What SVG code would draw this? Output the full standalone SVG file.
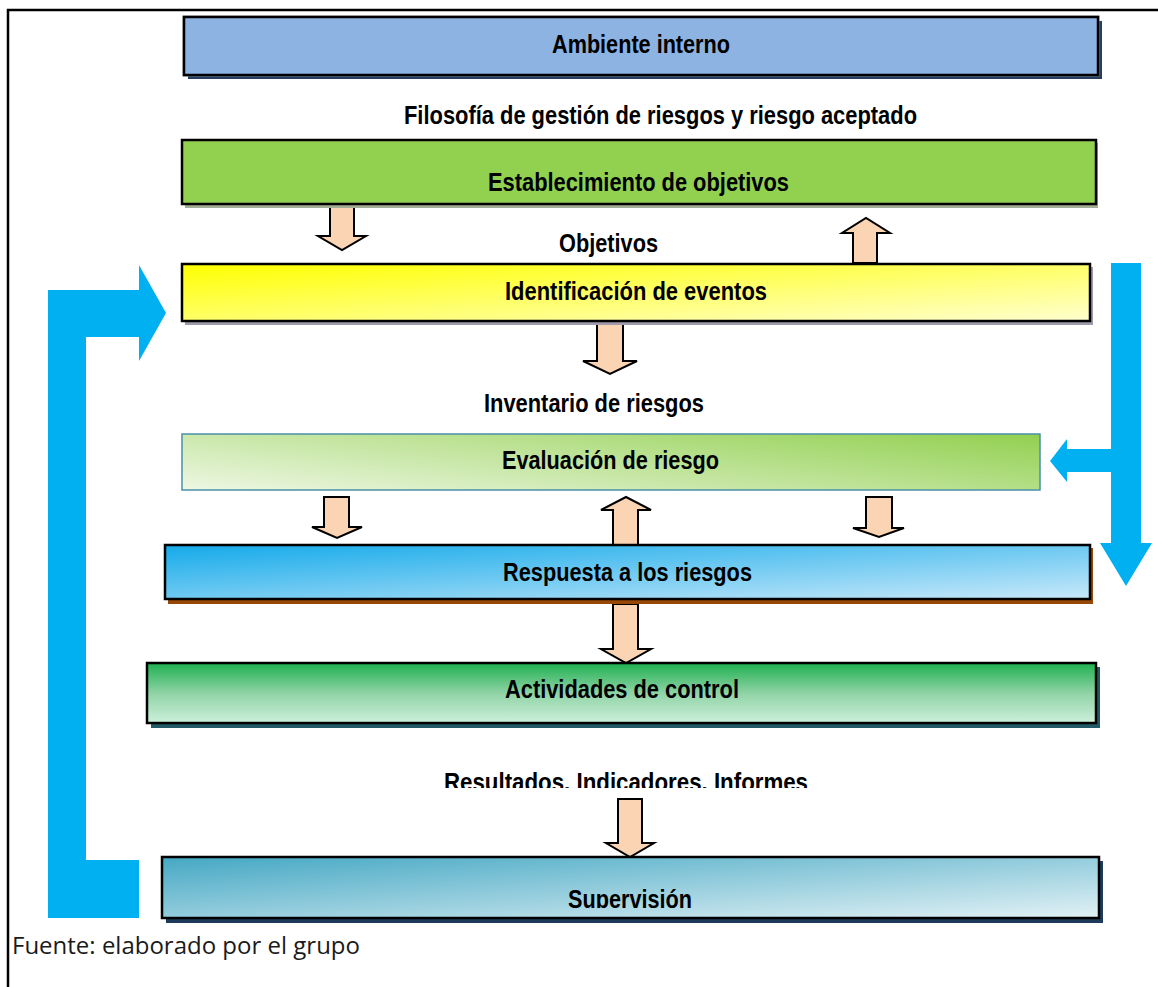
<svg xmlns="http://www.w3.org/2000/svg" width="1158" height="987" viewBox="0 0 1158 987">
<style>
.box{stroke:#000;stroke-width:2.5}
.lbl{font-family:"Liberation Sans",Arial,sans-serif;font-weight:bold;font-size:25px;fill:#000;text-anchor:start}
.pa{fill:#fbd4b4;stroke:#000;stroke-width:2;stroke-linejoin:miter}
.ba{fill:#00b0f0}
</style>
<defs>
<linearGradient id="gIdent" gradientUnits="userSpaceOnUse" x1="182" y1="264" x2="189" y2="378">
<stop offset="0" stop-color="#ffff00"/><stop offset="1" stop-color="#ffffd2"/>
</linearGradient>
<linearGradient id="gEval" gradientUnits="userSpaceOnUse" x1="1040" y1="434" x2="1024" y2="582">
<stop offset="0" stop-color="#92d050"/><stop offset="1" stop-color="#eef7e4"/>
</linearGradient>
<linearGradient id="gResp" gradientUnits="userSpaceOnUse" x1="165" y1="545" x2="171" y2="653">
<stop offset="0" stop-color="#14aaea"/><stop offset="1" stop-color="#cdeafa"/>
</linearGradient>
<linearGradient id="gAct" x1="0" y1="0" x2="0" y2="1">
<stop offset="0" stop-color="#1eb050"/><stop offset="0.5" stop-color="#8fd3a5"/><stop offset="1" stop-color="#cdf0dc"/>
</linearGradient>
<linearGradient id="gSup" gradientUnits="userSpaceOnUse" x1="162" y1="857" x2="170" y2="979">
<stop offset="0" stop-color="#45a8c4"/><stop offset="1" stop-color="#e2f1f5"/>
</linearGradient>
<clipPath id="cRes"><rect x="400" y="760" width="450" height="28"/></clipPath>
<clipPath id="cSup"><rect x="540" y="870" width="180" height="38"/></clipPath>
</defs>

<rect x="8" y="10" width="1170" height="1000" fill="#fff" stroke="#000" stroke-width="2.5"/>

<g id="connectors">
<path class="ba" d="M48,290 L139,290 L139,265 L166,313 L139,361 L139,337 L86,337 L86,860 L139,860 L139,918 L48,918 Z"/>
<path class="ba" d="M1111,263 L1141,263 L1141,543 L1152,543 L1126,586 L1100,543 L1111,543 L1111,472 L1067,472 L1067,482 L1050,461 L1067,439 L1067,449 L1111,449 Z"/>
<path class="pa" d="M330,205 L354,205 L354,236 L366,236 L342,250 L318,236 L330,236 Z"/>
<path class="pa" d="M853,263 L877,263 L877,233 L890,233 L866,218 L842,233 L853,233 Z"/>
<path class="pa" d="M597,322 L623,322 L623,361 L637,361 L610,374 L583,361 L597,361 Z"/>
<path class="pa" d="M324,497 L349,497 L349,527 L362,527 L337,538 L312,527 L324,527 Z"/>
<path class="pa" d="M613,545 L638,545 L638,510 L651,510 L626,497 L601,510 L613,510 Z"/>
<path class="pa" d="M866,497 L892,497 L892,528 L904,528 L879,537 L853,528 L866,528 Z"/>
<path class="pa" d="M613,604 L638,604 L638,649 L651,649 L626,663 L601,649 L613,649 Z"/>
<path class="pa" d="M618,799 L642,799 L642,843 L654,843 L630,857 L606,843 L618,843 Z"/>
</g>

<g id="ambiente">
<rect x="188" y="21" width="914" height="58" fill="#243f60"/>
<rect x="183" y="16" width="916" height="60" fill="none" stroke="#9a9a9a" stroke-width="1"/>
<rect class="box" x="184" y="17" width="914" height="58" fill="#8db3e2"/>
<text class="lbl" x="552" y="53" textLength="178" lengthAdjust="spacingAndGlyphs">Ambiente interno</text>
</g>

<g id="filosofia">
<text class="lbl" x="404" y="124" font-size="24" textLength="513" lengthAdjust="spacingAndGlyphs">Filosofía de gestión de riesgos y riesgo aceptado</text>
</g>

<g id="establecimiento">
<rect x="185" y="143" width="913" height="65" fill="#a3ae94"/>
<rect class="box" x="182" y="140" width="914" height="64" fill="#92d050"/>
<text class="lbl" x="488" y="191" textLength="301" lengthAdjust="spacingAndGlyphs">Establecimiento de objetivos</text>
</g>

<g id="objetivos">
<text class="lbl" x="559" y="252" font-size="24" textLength="99" lengthAdjust="spacingAndGlyphs">Objetivos</text>
</g>

<g id="identificacion">
<rect x="185" y="267" width="908" height="58" fill="#a19cad"/>
<rect class="box" x="182" y="264" width="908" height="57" fill="url(#gIdent)"/>
<text class="lbl" x="505" y="300" textLength="262" lengthAdjust="spacingAndGlyphs">Identificación de eventos</text>
</g>

<g id="inventario">
<text class="lbl" x="484" y="412" font-size="24" textLength="220" lengthAdjust="spacingAndGlyphs">Inventario de riesgos</text>
</g>

<g id="evaluacion">
<rect x="182" y="434" width="858" height="56" fill="url(#gEval)" stroke="#4a90a8" stroke-width="1.5"/>
<text class="lbl" x="502" y="469" textLength="217" lengthAdjust="spacingAndGlyphs">Evaluación de riesgo</text>
</g>

<g id="respuesta">
<rect x="168" y="548" width="925" height="56" fill="#974706"/>
<rect class="box" x="165" y="545" width="925" height="54" fill="url(#gResp)"/>
<text class="lbl" x="503" y="581" textLength="249" lengthAdjust="spacingAndGlyphs">Respuesta a los riesgos</text>
</g>

<g id="actividades">
<rect x="151" y="667" width="949" height="61" fill="#215967"/>
<rect class="box" x="147" y="663" width="949" height="60" fill="url(#gAct)"/>
<text class="lbl" x="505" y="698" textLength="234" lengthAdjust="spacingAndGlyphs">Actividades de control</text>
</g>

<g id="resultados">
<text class="lbl" x="444" y="791" font-size="24" textLength="364" lengthAdjust="spacingAndGlyphs" clip-path="url(#cRes)">Resultados. Indicadores. Informes</text>
</g>

<g id="supervision">
<rect x="166" y="861" width="937" height="62" fill="#1f3b5c"/>
<rect class="box" x="162" y="857" width="937" height="61" fill="url(#gSup)"/>
<text class="lbl" x="568" y="908" textLength="124" lengthAdjust="spacingAndGlyphs" clip-path="url(#cSup)">Supervisión</text>
</g>

<g id="fuente">
<text x="12" y="954" font-family="'Open Sans','Noto Sans',sans-serif" font-size="23.5" fill="#1a1a1a" textLength="348" lengthAdjust="spacingAndGlyphs">Fuente: elaborado por el grupo</text>
</g>
</svg>
